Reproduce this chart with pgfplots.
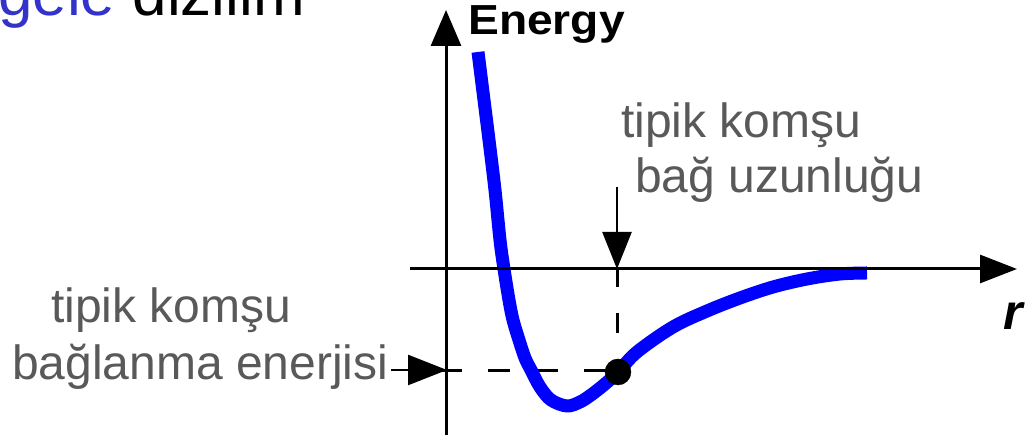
\documentclass[border=0pt]{standalone}
\usepackage{pgfplots}
\pgfplotsset{compat=1.18}
\usepackage{fontspec}
\setmainfont{Liberation Sans}
\usetikzlibrary{arrows.meta}
\definecolor{txtgray}{HTML}{595959}
\definecolor{gelecol}{HTML}{3333CC}
\definecolor{curveblue}{RGB}{0,0,255}
\begin{document}
\begin{tikzpicture}
\begin{axis}[width=1029pt,height=438pt,scale only axis,hide axis,
  xmin=0,xmax=1029,ymin=0,ymax=438,clip=false]
% dashed guide lines
\draw[black,line width=3pt,dash pattern=on 22pt off 26pt] (axis cs:440,67) -- (axis cs:606,67);
\draw[black,line width=3pt,dash pattern=on 20pt off 26pt] (axis cs:617,171) -- (axis cs:617,78);
% potential energy curve
\addplot[curveblue,line width=13pt,smooth,tension=0.55,line cap=butt,line join=round] coordinates {
(478,386) (484,338) (489,298) (495,248) (500,198) (504,169) (509,138)
(513,118) (519,98) (525,80) (531,68) (540,51) (551,38) (567,32)
(580,36) (591,43) (605,54) (618,66) (637,86) (673,111) (707,127)
(740,140) (773,151) (807,159) (840,164) (867,165)
};
% equilibrium point
\addplot[only marks,mark=*,mark size=13pt,black] coordinates {(618,66)};
% axes
\draw[black,line width=3pt,-{Triangle[length=37pt,width=28pt]}] (axis cs:410,169) -- (axis cs:1017,169);
\draw[black,line width=3pt,-{Triangle[length=36pt,width=30pt]}] (axis cs:446,3) -- (axis cs:446,428);
% annotation arrows
\draw[black,line width=2.5pt,-{Triangle[length=37pt,width=29pt]}] (axis cs:617,251) -- (axis cs:617,169);
\draw[black,line width=2.5pt,-{Triangle[length=39pt,width=30pt]}] (axis cs:391,68) -- (axis cs:447,68);
% texts
\node[anchor=base west,inner sep=0pt,xscale=1.1,font=\fontsize{42}{50}\selectfont\bfseries] at (axis cs:468,403) {Energy};
\node[anchor=base west,inner sep=0pt,font=\fontsize{50}{58}\selectfont\bfseries\itshape] at (axis cs:1003,108) {r};
\node[anchor=base west,inner sep=0pt,text=txtgray,font=\fontsize{48}{56}\selectfont] at (axis cs:621,300) {tipik komşu};
\node[anchor=base west,inner sep=0pt,text=txtgray,font=\fontsize{48}{56}\selectfont] at (axis cs:635,245) {bağ uzunluğu};
\node[anchor=base west,inner sep=0pt,text=txtgray,font=\fontsize{48}{56}\selectfont] at (axis cs:51,115) {tipik komşu};
\node[anchor=base west,inner sep=0pt,text=txtgray,font=\fontsize{48}{56}\selectfont] at (axis cs:12,58) {bağlanma enerjisi};
\node[anchor=base east,inner sep=0pt,font=\fontsize{62}{70}\selectfont] at (axis cs:305,422) {{\color{gelecol}gele} dizilim};
\end{axis}
\pgfresetboundingbox
\path[use as bounding box] (0,0) rectangle (1029pt,438pt);
\end{tikzpicture}
\end{document}
